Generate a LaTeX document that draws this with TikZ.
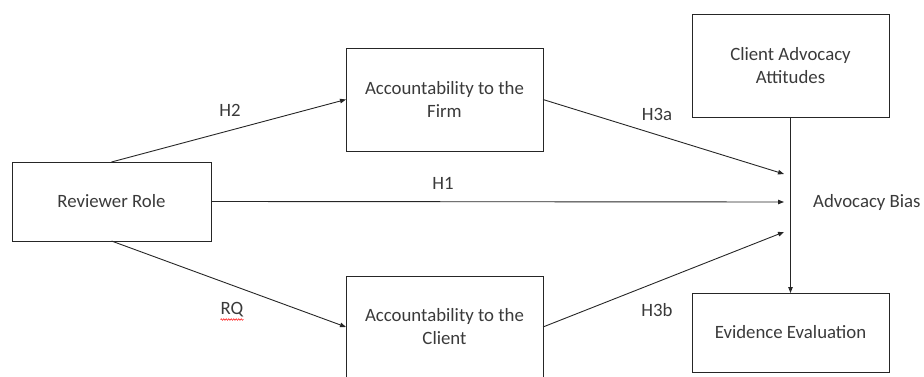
\documentclass[tikz,border=0pt]{standalone}
\usepackage{fontspec}
\setmainfont{Carlito}
\usetikzlibrary{arrows.meta,decorations.pathmorphing}
\definecolor{txt}{HTML}{3a3a3a}
\definecolor{ln}{HTML}{262626}
\begin{document}
\begin{tikzpicture}[x=1pt,y=-1pt,
  box/.style={draw=ln,line width=0.9pt,inner sep=0pt,outer sep=0pt,align=center,
    text=txt,font=\fontsize{18.8}{23}\selectfont},
  lab/.style={text=txt,font=\fontsize{18.8}{23}\selectfont,inner sep=0pt},
  conn/.style={draw=ln,line width=0.9pt,-{Triangle[length=6pt,width=4.5pt]}}]
\useasboundingbox (0,0) rectangle (924,377);
\node[box,minimum width=199pt,minimum height=79pt] (rr) at (111.5,201.5) {Reviewer Role};
\node[box,minimum width=197pt,minimum height=103pt] (firm) at (444.5,99.5) {Accountability to the\\Firm};
\node[box,minimum width=197pt,minimum height=102pt] (client) at (444.5,327) {Accountability to the\\Client};
\node[box,minimum width=197pt,minimum height=103pt] (caa) at (790.5,65.5) {Client Advocacy\\Attitudes};
\node[box,minimum width=197pt,minimum height=79pt] (ee) at (790.5,332.5) {Evidence Evaluation};
\node[lab,anchor=west] (ab) at (813,202) {Advocacy Bias};
\coordinate (ta) at (784,174);
\coordinate (tb) at (784,202);
\coordinate (tc) at (784,232);
\draw[conn] (rr.north) -- (firm.west);
\draw[conn] (rr.east) -- (tb);
\draw[conn] (rr.south) -- (client.west);
\draw[conn] (firm.east) -- (ta);
\draw[conn] (client.east) -- (tc);
\draw[conn] (caa.south) -- (ee.north);
\node[lab] (h2) at (230,110) {H2};
\node[lab] (h1) at (443,183) {H1};
\node[lab] (rq) at (232,310) {RQ};
\node[lab] (h3a) at (657,114) {H3a};
\node[lab] (h3b) at (657,310) {H3b};
\draw[red,line width=0.5pt,decorate,decoration={snake,amplitude=0.8pt,segment length=2.5pt}]
  ([yshift=-2pt]rq.south west) -- ([yshift=-2pt]rq.south east);
\end{tikzpicture}
\end{document}
